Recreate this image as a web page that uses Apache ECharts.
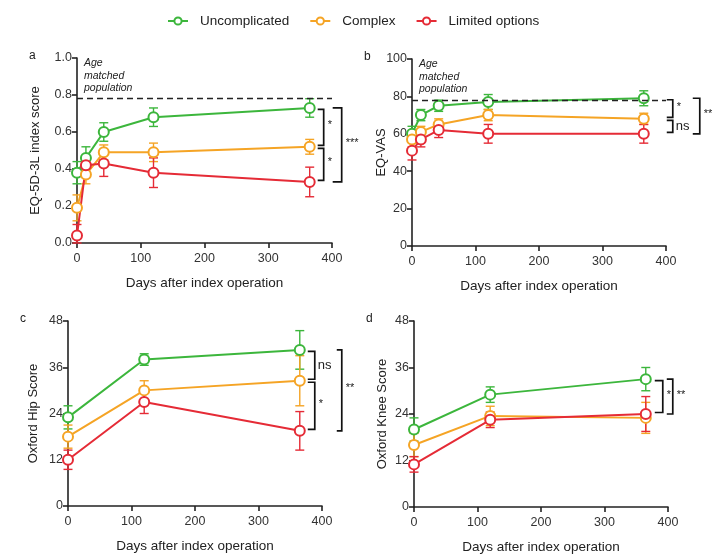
<!DOCTYPE html>
<html>
<head>
<meta charset="utf-8">
<script src="https://cdn.jsdelivr.net/npm/echarts@6/dist/echarts.min.js"></script>
<style>
  html, body { margin: 0; padding: 0; background: #fff; }
  #main { width: 718px; height: 555px; }
</style>
</head>
<body>
<div id="main"></div>
<script>
// time points (days)
var daysEq = [0, 14, 42, 120, 365];
var daysOx = [0, 120, 365];

var groupNames = ['Uncomplicated', 'Complex', 'Limited options'];
var groupColors = ['#3cb63c', '#f5a425', '#e52b36'];

// a: EQ-5D-3L index score
var eqIndexMean = [
  [0.38, 0.46, 0.60, 0.68, 0.73],
  [0.19, 0.37, 0.49, 0.49, 0.52],
  [0.04, 0.42, 0.43, 0.38, 0.33]
];
var eqIndexErr = [
  [0.06, 0.06, 0.05, 0.05, 0.05],
  [0.07, 0.05, 0.04, 0.05, 0.04],
  [0.06, 0.05, 0.07, 0.08, 0.08]
];

// b: EQ-VAS
var eqVasMean = [
  [60, 70, 75, 77, 79],
  [57, 61, 65, 70, 68],
  [51, 57, 62, 60, 60]
];
var eqVasErr = [
  [4, 3, 3, 4, 4],
  [4, 3, 3, 3, 3],
  [5, 4, 4, 5, 5]
];

// c: Oxford Hip Score
var hipMean = [
  [23, 38, 40.5],
  [18, 30, 32.5],
  [12, 27, 19.5]
];
var hipErr = [
  [3, 1.5, 5],
  [3, 2.5, 6.5],
  [2.5, 3, 5]
];

// d: Oxford Knee Score
var kneeMean = [
  [20, 29, 33],
  [16, 23.5, 23],
  [11, 22.5, 24]
];
var kneeErr = [
  [3, 2, 3],
  [3, 2.5, 4],
  [2, 2, 4.5]
];

var panels = [
  { letter: 'a', x: daysEq, mean: eqIndexMean, err: eqIndexErr, yName: 'EQ-5D-3L index score',
    yMax: 1, yInt: 0.2, ref: 0.78, grid: { left: 77, top: 58, width: 255, height: 185 }, nameGap: 35,
    digits: 1 },
  { letter: 'b', x: daysEq, mean: eqVasMean, err: eqVasErr, yName: 'EQ-VAS',
    yMax: 100, yInt: 20, ref: 78, grid: { left: 412, top: 59, width: 254, height: 187 }, nameGap: 24,
    digits: 0 },
  { letter: 'c', x: daysOx, mean: hipMean, err: hipErr, yName: 'Oxford Hip Score',
    yMax: 48, yInt: 12, ref: null, grid: { left: 68, top: 321, width: 254, height: 185 }, nameGap: 28,
    digits: 0 },
  { letter: 'd', x: daysOx, mean: kneeMean, err: kneeErr, yName: 'Oxford Knee Score',
    yMax: 48, yInt: 12, ref: null, grid: { left: 414, top: 321, width: 254, height: 186 }, nameGap: 25,
    digits: 0 }
];

// significance brackets: [from group, to group, label, inner/outer]
var brackets = [
  [[0, 1, '*', 0], [1, 2, '*', 0], [0, 2, '***', 1]],
  [[0, 1, '*', 0], [1, 2, 'ns', 0], [0, 2, '**', 1]],
  [[0, 1, 'ns', 0], [1, 2, '*', 0], [0, 2, '**', 1]],
  [[0, 2, '*', 0], [0, 2, '**', 1]]
];
// pixel offsets from the last time point: [inner start, inner end, outer start, outer end]
var bracketOffsets = [
  [8, 14, 23, 32],
  [23, 29, 49, 56],
  [8, 15, 37, 42],
  [9, 17, 21, 27]
];

var font = 'Liberation Sans, Arial, sans-serif';
var chart = echarts.init(document.getElementById('main'));

var grids = [], xAxes = [], yAxes = [], series = [];

panels.forEach(function (p, pi) {
  grids.push(p.grid);
  xAxes.push({
    type: 'value', gridIndex: pi, min: 0, max: 400, interval: 100,
    name: 'Days after index operation', nameLocation: 'middle', nameGap: 33,
    nameMoveOverlap: false,
    nameTextStyle: { fontSize: 13.5, color: '#222', fontFamily: font },
    axisLine: { show: true, lineStyle: { color: '#222', width: 1.6 } },
    axisTick: { show: true, length: 5, lineStyle: { color: '#222', width: 1.6 } },
    axisLabel: { fontSize: 12.5, color: '#333', fontFamily: font, margin: 9 },
    splitLine: { show: false }
  });
  yAxes.push({
    type: 'value', gridIndex: pi, min: 0, max: p.yMax, interval: p.yInt,
    name: p.yName, nameLocation: 'middle', nameGap: p.nameGap,
    nameMoveOverlap: false,
    nameTextStyle: { fontSize: 13, color: '#222', fontFamily: font },
    axisLine: { show: true, onZero: false, lineStyle: { color: '#222', width: 1.6 } },
    axisTick: { show: true, length: 5, lineStyle: { color: '#222', width: 1.6 } },
    axisLabel: { fontSize: 12.5, color: '#333', fontFamily: font, margin: 5,
      formatter: function (v) { return v.toFixed(p.digits); } },
    splitLine: { show: false }
  });

  for (var g = 0; g < 3; g++) {
    (function (g) {
      var col = groupColors[g];
      var errData = p.x.map(function (d, i) { return [d, p.mean[g][i], p.err[g][i]]; });
      series.push({
        type: 'custom', xAxisIndex: pi, yAxisIndex: pi, silent: true, z: 3,
        data: errData,
        renderItem: function (params, api) {
          var x = api.value(0), y = api.value(1), e = api.value(2);
          var lo = api.coord([x, Math.max(0, y - e)]);
          var hi = api.coord([x, y + e]);
          var cap = 4.5;
          var st = { stroke: col, lineWidth: 1.4 };
          return { type: 'group', children: [
            { type: 'line', shape: { x1: lo[0], y1: lo[1], x2: hi[0], y2: hi[1] }, style: st },
            { type: 'line', shape: { x1: lo[0] - cap, y1: lo[1], x2: lo[0] + cap, y2: lo[1] }, style: st },
            { type: 'line', shape: { x1: hi[0] - cap, y1: hi[1], x2: hi[0] + cap, y2: hi[1] }, style: st }
          ]};
        }
      });
      var s = {
        name: groupNames[g], type: 'line', xAxisIndex: pi, yAxisIndex: pi, z: 4,
        data: p.x.map(function (d, i) { return [d, p.mean[g][i]]; }),
        symbol: 'circle', symbolSize: 10, showAllSymbol: true,
        lineStyle: { color: col, width: 2 },
        itemStyle: { color: '#fff', borderColor: col, borderWidth: 2 },
        emphasis: { disabled: true },
        animation: false
      };
      if (g === 0 && p.ref !== null) {
        s.markLine = {
          silent: true, symbol: 'none', label: { show: false },
          lineStyle: { color: '#222', type: [6, 4], width: 1.4 },
          data: [{ yAxis: p.ref }]
        };
      }
      series.push(s);
    })(g);
  }
});

chart.setOption({
  animation: false,
  textStyle: { fontFamily: font },
  legend: {
    top: 9, left: 162, itemWidth: 20, itemHeight: 9, itemGap: 20,
    textStyle: { fontSize: 13.5, color: '#222', fontFamily: font, padding: [0, 0, 0, 7] },
    data: groupNames
  },
  grid: grids,
  xAxis: xAxes,
  yAxis: yAxes,
  series: series
});

// annotations placed via the axes
var graphics = [];
panels.forEach(function (p, pi) {
  var origin = chart.convertToPixel({ gridIndex: pi }, [0, p.yMax]);
  graphics.push({
    type: 'text', x: origin[0] - 48, y: origin[1] - 8,
    style: { text: p.letter, font: '12px ' + font, fill: '#222' }
  });
  if (p.ref !== null) {
    graphics.push({
      type: 'text', x: origin[0] + 7, y: origin[1] - 1,
      style: { text: 'Age\nmatched\npopulation', font: 'italic 10.5px ' + font,
        fill: '#222', lineHeight: 12.5 }
    });
  }
  var last = p.x.length - 1;
  var offs = bracketOffsets[pi];
  brackets[pi].forEach(function (b) {
    var pTop = chart.convertToPixel({ gridIndex: pi }, [p.x[last], p.mean[b[0]][last]]);
    var pBot = chart.convertToPixel({ gridIndex: pi }, [p.x[last], p.mean[b[1]][last]]);
    var x0 = pTop[0] + (b[3] ? offs[2] : offs[0]);
    var x1 = pTop[0] + (b[3] ? offs[3] : offs[1]);
    var y0 = pTop[1] + (b[3] ? 0 : 1.5);
    var y1 = pBot[1] - (b[3] ? 0 : 1.5);
    graphics.push({
      type: 'polyline',
      shape: { points: [[x0, y0], [x1, y0], [x1, y1], [x0, y1]] },
      style: { stroke: '#111', lineWidth: 1.7, fill: null }
    });
    var isNs = b[2] === 'ns';
    graphics.push({
      type: 'text', x: x1 + (isNs ? 3 : 4), y: (y0 + y1) / 2 + (isNs ? 0 : -2),
      style: { text: b[2], font: (isNs ? '13px ' : '11px ') + font, fill: '#222',
        verticalAlign: 'middle', align: 'left' }
    });
  });
});
chart.setOption({ graphic: graphics });
</script>
</body>
</html>
